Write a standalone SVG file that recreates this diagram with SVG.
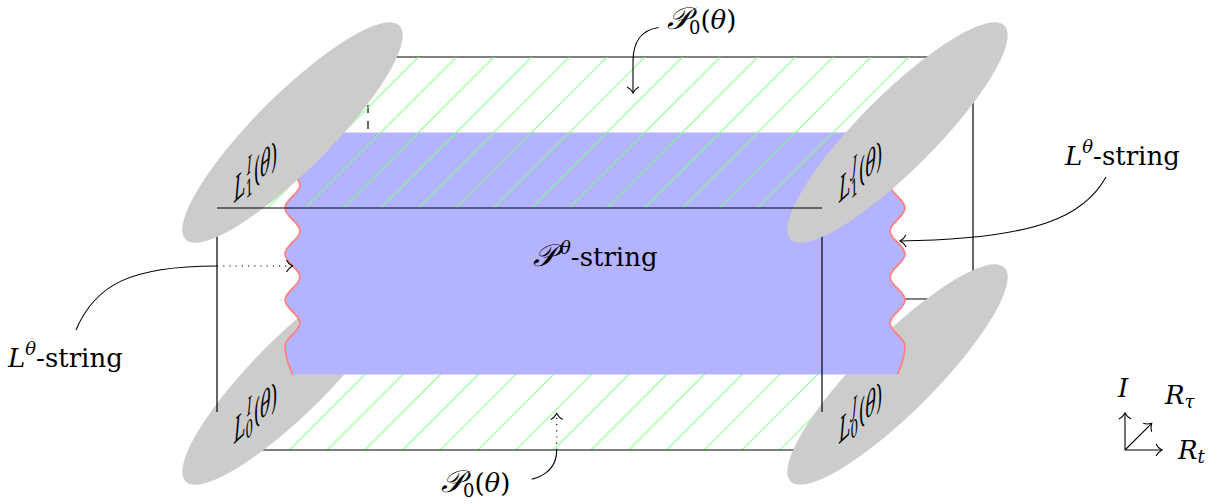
<svg xmlns="http://www.w3.org/2000/svg" width="1222" height="504" viewBox="0 0 1222 504">
<defs>
<style>
.edge{stroke:#000;stroke-width:1.2;fill:none}
.ell{fill:#cccccc}
.wave{fill:none;stroke:#ff8080;stroke-width:1.8}
.lbl{font-family:'DejaVu Serif','Liberation Serif',serif;font-size:26px;fill:#000}
.it{font-style:italic}
.scr{font-family:'DejaVu Serif','DejaVu Sans','Noto Sans',serif;font-style:italic;font-size:31px}
.sm{font-size:18px}
.ann{fill:none;stroke:#000;stroke-width:1.1}
.dot{stroke-dasharray:1.2 5}
.face{stroke:none}
</style>
<pattern id="hatch" patternUnits="userSpaceOnUse" x="23.2" y="0" width="37.7" height="37.7">
<path d="M -4 4 L 4 -4 M 0 37.7 L 37.7 0 M 33.7 41.7 L 41.7 33.7" stroke="#80ff80" stroke-width="1"/>
</pattern>
<marker id="ah" viewBox="-8 -8 10 16" markerWidth="10" markerHeight="16" refX="0" refY="0" orient="auto" markerUnits="userSpaceOnUse">
<path d="M -6 -6 C -4.5 -2.5 -1.5 -0.8 0 0 C -1.5 0.8 -4.5 2.5 -6 6" fill="none" stroke="#000" stroke-width="1.1"/>
</marker>
</defs>
<rect width="1222" height="504" fill="#fff"/>

<g id="bottom-face">
<polygon class="face" points="217,450 822,450 973,299 368,299" fill="url(#hatch)"/>
</g>

<g id="back-edges">
<line class="edge" x1="368" y1="57" x2="973" y2="57"/>
<line class="edge" x1="973" y1="57" x2="973" y2="299"/>
<line class="edge" x1="368" y1="299" x2="973" y2="299"/>
<line class="edge" x1="368" y1="57" x2="368" y2="299" stroke-dasharray="8 8"/>
<line class="edge" x1="217" y1="450" x2="822" y2="450"/>
</g>

<g id="L0I">
<ellipse class="ell" cx="0" cy="0" rx="151.2" ry="37.8" transform="translate(292.5,374.5) rotate(-45)"/>
<text class="lbl" transform="matrix(0.66,-0.6,0,1.3,234,444)"><tspan class="it">L</tspan><tspan class="sm" dy="5">0</tspan><tspan class="sm it" dx="-9" dy="-17">I</tspan><tspan dx="3" dy="12">(</tspan><tspan class="it">θ</tspan>)</text>
</g>
<g id="L0J">
<ellipse class="ell" cx="0" cy="0" rx="151.2" ry="37.8" transform="translate(897.5,374.5) rotate(-45)"/>
<text class="lbl" transform="matrix(0.66,-0.6,0,1.3,839,444)"><tspan class="it">L</tspan><tspan class="sm" dy="5">0</tspan><tspan class="sm it" dx="-9" dy="-17">J</tspan><tspan dx="3" dy="12">(</tspan><tspan class="it">θ</tspan>)</text>
</g>

<g id="P-theta-string">
<path fill="#b3b3ff" d="M 292.5 132.5 Q 300 134 300 139 C 300 147.4 285 153.6 285 162 C 285 170.4 300 176.6 300 185 C 300 193.4 285 199.6 285 208 C 285 216.4 300 222.6 300 231 C 300 239.4 285 245.6 285 254 C 285 262.4 300 268.6 300 277 C 300 285.4 285 291.6 285 300 C 285 308.4 300 314.6 300 323 C 300 331.4 285 337.6 285 346 C 285 358 290 368 292.5 374.5 L 897.5 374.5 C 900 368 905 358 905 346 C 905 337.6 890 331.4 890 323 C 890 314.6 905 308.4 905 300 C 905 291.6 890 285.4 890 277 C 890 268.6 905 262.4 905 254 C 905 245.6 890 239.4 890 231 C 890 222.6 905 216.4 905 208 C 905 199.6 890 193.4 890 185 C 890 176.6 905 170.4 905 162 C 905 153.6 890 147.4 890 139 Q 890 134 897.5 132.5 Z"/>
<path class="wave" d="M 292.5 132.5 Q 300 134 300 139 C 300 147.4 285 153.6 285 162 C 285 170.4 300 176.6 300 185 C 300 193.4 285 199.6 285 208 C 285 216.4 300 222.6 300 231 C 300 239.4 285 245.6 285 254 C 285 262.4 300 268.6 300 277 C 300 285.4 285 291.6 285 300 C 285 308.4 300 314.6 300 323 C 300 331.4 285 337.6 285 346 C 285 358 290 368 292.5 374.5"/>
<path class="wave" d="M 897.5 132.5 Q 890 134 890 139 C 890 147.4 905 153.6 905 162 C 905 170.4 890 176.6 890 185 C 890 193.4 905 199.6 905 208 C 905 216.4 890 222.6 890 231 C 890 239.4 905 245.6 905 254 C 905 262.4 890 268.6 890 277 C 890 285.4 905 291.6 905 300 C 905 308.4 890 314.6 890 323 C 890 331.4 905 337.6 905 346 C 905 358 900 368 897.5 374.5"/>
<text class="lbl" x="533" y="266"><tspan class="scr">𝒫</tspan><tspan class="sm it" dx="5" dy="-12">θ</tspan><tspan dy="12">-string</tspan></text>
</g>

<g id="top-face">
<polygon class="face" points="217,208 822,208 973,57 368,57" fill="url(#hatch)"/>
</g>

<g id="front-edges">
<line class="edge" x1="217" y1="208" x2="217" y2="412"/>
<line class="edge" x1="822" y1="208" x2="822" y2="412"/>
</g>

<g id="L1I">
<ellipse class="ell" cx="0" cy="0" rx="151.2" ry="37.8" transform="translate(292.5,132.5) rotate(-45)"/>
<text class="lbl" transform="matrix(0.66,-0.6,0,1.3,234,203)"><tspan class="it">L</tspan><tspan class="sm" dy="5">1</tspan><tspan class="sm it" dx="-9" dy="-17">I</tspan><tspan dx="3" dy="12">(</tspan><tspan class="it">θ</tspan>)</text>
</g>
<g id="L1J">
<ellipse class="ell" cx="0" cy="0" rx="151.2" ry="37.8" transform="translate(897.5,132.5) rotate(-45)"/>
<text class="lbl" transform="matrix(0.66,-0.6,0,1.3,839,203)"><tspan class="it">L</tspan><tspan class="sm" dy="5">1</tspan><tspan class="sm it" dx="-9" dy="-17">J</tspan><tspan dx="3" dy="12">(</tspan><tspan class="it">θ</tspan>)</text>
</g>

<g id="front-top-edge">
<line class="edge" x1="217" y1="208" x2="822" y2="208"/>
</g>

<g id="connectors">
<path class="ann" d="M 658.5 27.5 C 642 30 633 40 633 62 L 633 93" marker-end="url(#ah)"/>
<path class="ann" d="M 531.7 479.3 C 548 475 556.7 465 556.7 450"/>
<path class="ann dot" d="M 556.7 450 L 556.7 413.5" marker-end="url(#ah)"/>
<path class="ann" d="M 1106 177 C 1085 215 1040 239 900 241" marker-end="url(#ah)"/>
<path class="ann" d="M 76 330 C 95 285 130 266 217 266"/>
<path class="ann dot" d="M 217 266 L 292.5 266" marker-end="url(#ah)"/>
<path class="ann" d="M 1125 450 L 1125 413" marker-end="url(#ah)"/>
<path class="ann" d="M 1125 450 L 1162 450" marker-end="url(#ah)"/>
<path class="ann" d="M 1125 450 L 1151.7 423.3" marker-end="url(#ah)"/>
</g>

<g id="label-P0-top">
<text class="lbl" x="667" y="29"><tspan class="scr">𝒫</tspan><tspan class="sm" dy="5">0</tspan><tspan dy="-5">(</tspan><tspan class="it">θ</tspan>)</text>
</g>
<g id="label-P0-bottom">
<text class="lbl" x="441" y="492"><tspan class="scr">𝒫</tspan><tspan class="sm" dy="5">0</tspan><tspan dy="-5">(</tspan><tspan class="it">θ</tspan>)</text>
</g>
<g id="label-L-right">
<text class="lbl" x="1065" y="165"><tspan class="it">L</tspan><tspan class="sm it" dy="-12">θ</tspan><tspan dy="12">-string</tspan></text>
</g>
<g id="label-L-left">
<text class="lbl" x="8" y="367"><tspan class="it">L</tspan><tspan class="sm it" dy="-12">θ</tspan><tspan dy="12">-string</tspan></text>
</g>
<g id="axes-labels">
<text class="lbl it" x="1118" y="397">I</text>
<text class="lbl" x="1165" y="404"><tspan class="it">R</tspan><tspan class="sm it" dy="4">τ</tspan></text>
<text class="lbl" x="1178" y="459"><tspan class="it">R</tspan><tspan class="sm it" dy="4">t</tspan></text>
</g>
</svg>
